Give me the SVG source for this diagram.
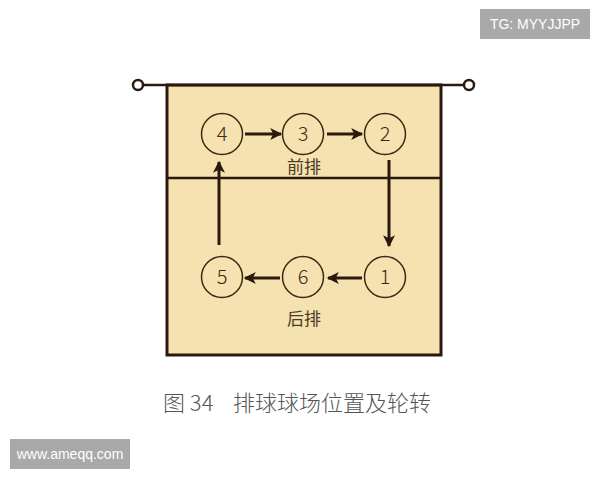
<svg xmlns="http://www.w3.org/2000/svg" width="600" height="480" viewBox="0 0 600 480">
<defs>
<style>
.pos{fill:none;stroke:#3a2812;stroke-width:1.5}
.num{font-family:"Noto Sans CJK SC","Liberation Sans",sans-serif;font-weight:300;font-size:20px;fill:#3a2812;text-anchor:middle}
.lbl{font-family:"Noto Sans CJK SC",sans-serif;font-size:17px;fill:#4a3a28;text-anchor:middle}
.arr{stroke:#2a1a0e;stroke-width:3;fill:none;marker-end:url(#ah)}
.badge{fill:#a9a9a9}
.btxt{font-family:"Liberation Sans",Arial,sans-serif;font-size:14px;fill:#ffffff;text-anchor:middle}
</style>
<marker id="ah" viewBox="0 0 10 10" refX="9" refY="5" markerWidth="5" markerHeight="4" markerUnits="strokeWidth" orient="auto">
<path d="M0,0 L10,5 L0,10 L2.5,5 Z" fill="#2a1a0e"/>
</marker>
</defs>
<rect width="600" height="480" fill="#ffffff"/>
<g id="court">
<rect x="167" y="85" width="274" height="270" fill="#f5e2b0" stroke="#2a1a0e" stroke-width="3"/>
<line x1="167" y1="178" x2="441" y2="178" stroke="#2a1a0e" stroke-width="2.5"/>
</g>
<g id="net">
<line x1="143" y1="85" x2="464" y2="85" stroke="#2a1a0e" stroke-width="2.5"/>
<circle cx="138" cy="85" r="5" fill="#ffffff" stroke="#2a1a0e" stroke-width="2.5"/>
<circle cx="469" cy="85" r="5" fill="#ffffff" stroke="#2a1a0e" stroke-width="2.5"/>
</g>
<g id="p4"><circle class="pos" cx="222" cy="134" r="20.5"/><text class="num" x="222" y="141">4</text></g>
<g id="p3"><circle class="pos" cx="303" cy="134" r="20.5"/><text class="num" x="303" y="141">3</text></g>
<g id="p2"><circle class="pos" cx="385" cy="134" r="20.5"/><text class="num" x="385" y="141">2</text></g>
<g id="p5"><circle class="pos" cx="222" cy="277" r="20.5"/><text class="num" x="222" y="284">5</text></g>
<g id="p6"><circle class="pos" cx="303" cy="277" r="20.5"/><text class="num" x="303" y="284">6</text></g>
<g id="p1"><circle class="pos" cx="385" cy="277" r="20.5"/><text class="num" x="385" y="284">1</text></g>
<g id="labels">
<text class="lbl" x="304" y="173">前排</text>
<text class="lbl" x="304" y="325">后排</text>
</g>
<g id="connectors">
<line class="arr" x1="245" y1="134" x2="281" y2="134"/>
<line class="arr" x1="327" y1="134" x2="362" y2="134"/>
<line class="arr" x1="389" y1="160" x2="389" y2="246"/>
<line class="arr" x1="362" y1="278" x2="328" y2="278"/>
<line class="arr" x1="280" y1="278" x2="245" y2="278"/>
<line class="arr" x1="219" y1="245" x2="219" y2="162"/>
</g>
<g id="caption">
<text x="163" y="411" font-family="Noto Sans CJK SC,sans-serif" font-size="22" font-weight="300" fill="#555555">图 34</text>
<text x="233" y="411" font-family="Noto Sans CJK SC,sans-serif" font-size="22" font-weight="300" fill="#555555">排球球场位置及轮转</text>
</g>
<g id="badge-tg"><rect class="badge" x="480" y="9" width="110" height="30"/><text class="btxt" x="535" y="29">TG: MYYJJPP</text></g>
<g id="badge-www"><rect class="badge" x="10" y="439" width="120" height="30"/><text class="btxt" x="70" y="459">www.ameqq.com</text></g>
</svg>
